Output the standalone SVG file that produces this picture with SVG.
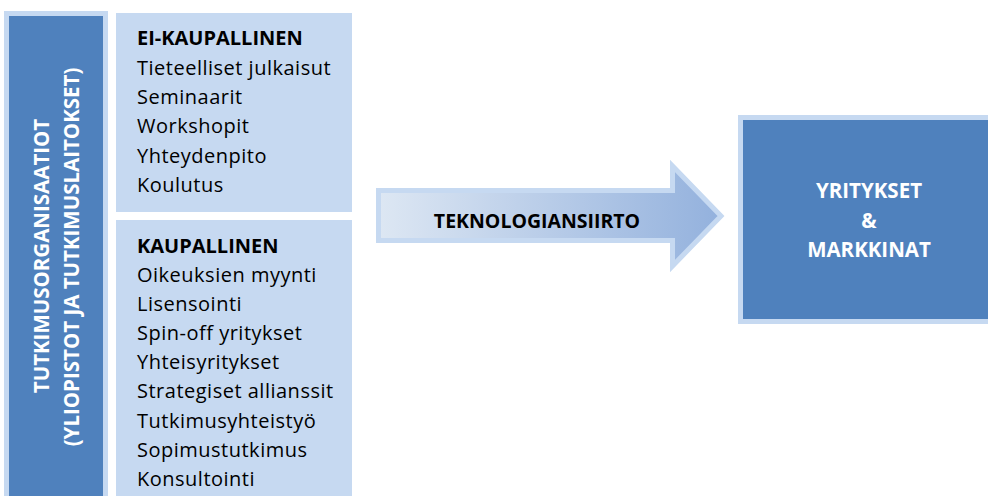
<svg xmlns="http://www.w3.org/2000/svg" width="988" height="496" viewBox="0 0 988 496">
  <style>
    .item { font-family: "Open Sans", "Liberation Sans", sans-serif; font-size: 20px; letter-spacing: 0.5px; fill: #000000; }
    .head { font-weight: bold; letter-spacing: 0; }
    .white { font-family: "Open Sans", "Liberation Sans", sans-serif; font-weight: bold; fill: #ffffff; text-anchor: middle; }
  </style>
  <defs>
    <linearGradient id="arrowFill" x1="0" y1="0" x2="1" y2="0">
      <stop offset="0" stop-color="#DDE7F3"/>
      <stop offset="1" stop-color="#93B1DD"/>
    </linearGradient>
  </defs>

  <rect width="988" height="496" fill="#ffffff"/>

  <!-- research organisations bar -->
  <g id="research-orgs">
    <rect x="6.5" y="13.5" width="99" height="490" fill="#4F81BD" stroke="#C6D9F1" stroke-width="5"/>
    <text class="white" font-size="20.5" transform="translate(49 256) rotate(-90)">TUTKIMUSORGANISAATIOT</text>
    <text class="white" font-size="20.5" transform="translate(79 257) rotate(-90)">(YLIOPISTOT JA TUTKIMUSLAITOKSET)</text>
  </g>

  <!-- non-commercial channels -->
  <g id="non-commercial">
    <rect x="116" y="13" width="236" height="199" fill="#C6D9F1"/>
    <text class="item head" x="137" y="45">EI-KAUPALLINEN</text>
    <text class="item" x="137" y="75">Tieteelliset julkaisut</text>
    <text class="item" x="137" y="104">Seminaarit</text>
    <text class="item" x="137" y="133">Workshopit</text>
    <text class="item" x="137" y="163">Yhteydenpito</text>
    <text class="item" x="137" y="192">Koulutus</text>
  </g>

  <!-- commercial channels -->
  <g id="commercial">
    <rect x="116" y="220" width="236" height="290" fill="#C6D9F1"/>
    <text class="item head" x="137" y="253">KAUPALLINEN</text>
    <text class="item" x="137" y="282">Oikeuksien myynti</text>
    <text class="item" x="137" y="311">Lisensointi</text>
    <text class="item" x="137" y="340">Spin-off yritykset</text>
    <text class="item" x="137" y="369">Yhteisyritykset</text>
    <text class="item" x="137" y="398">Strategiset allianssit</text>
    <text class="item" x="137" y="428">Tutkimusyhteistyö</text>
    <text class="item" x="137" y="457">Sopimustutkimus</text>
    <text class="item" x="137" y="486">Konsultointi</text>
  </g>

  <!-- technology transfer arrow -->
  <g id="connectors">
    <path d="M378.5 190.5 H672.5 V166 L721 216 L672.5 266 V240.5 H378.5 Z" fill="url(#arrowFill)" stroke="#C6D9F1" stroke-width="5" stroke-linejoin="miter"/>
    <text x="537" y="228" font-family="'Open Sans', 'Liberation Sans', sans-serif" font-size="19.5" font-weight="bold" text-anchor="middle" fill="#000000">TEKNOLOGIANSIIRTO</text>
  </g>

  <!-- companies and markets -->
  <g id="companies-markets">
    <rect x="740.5" y="117.5" width="260" height="204" fill="#4F81BD" stroke="#C6D9F1" stroke-width="5"/>
    <text class="white" font-size="20.5" x="869" y="198">YRITYKSET</text>
    <text class="white" font-size="20.5" x="869" y="228">&amp;</text>
    <text class="white" font-size="20.5" x="869" y="257">MARKKINAT</text>
  </g>
</svg>
